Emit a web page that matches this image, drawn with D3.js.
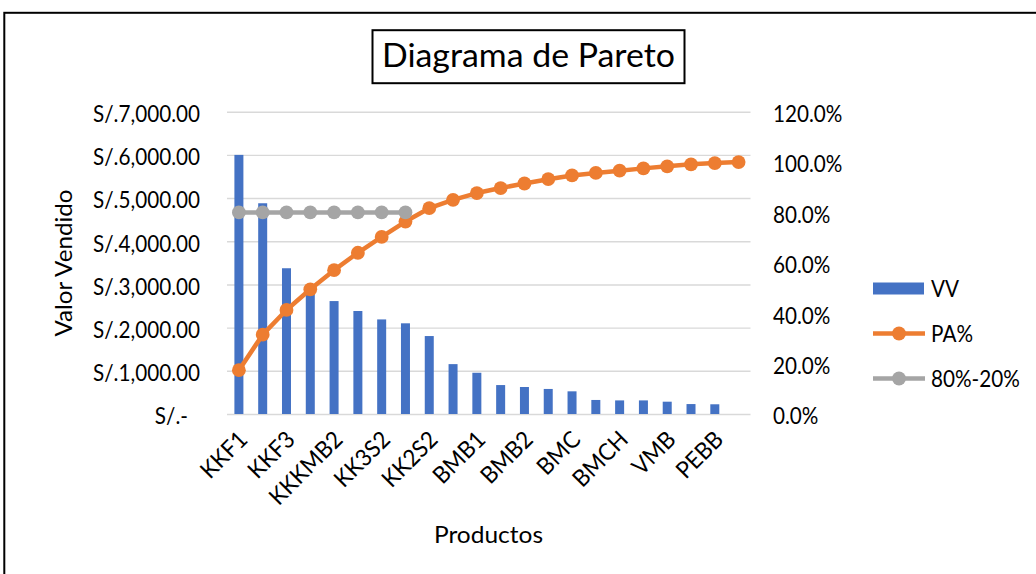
<!DOCTYPE html>
<html>
<head>
<meta charset="utf-8">
<script src="https://cdn.jsdelivr.net/npm/d3@7"></script>
<style>
  html, body { margin: 0; padding: 0; background: #fff; }
  svg { display: block; }
  text { font-family: Lato, "Noto Sans", sans-serif; fill: #000; }
</style>
</head>
<body>
<svg id="chart" width="1036" height="574"></svg>
<script>
// Products, ordered from highest to lowest sales
const categories = ["KKF1","KKF2","KKF3","KKKMB1","KKKMB2","KK3S1","KK3S2","KK2S1","KK2S2","KKMB3",
  "BMB1","BMB3","BMB2","BMA","BMC","BMS","BMCH","VMA","VMB","PEBA","PEBB","PEBC"];
// Labels shown on the category axis
const tickLabels = ["KKF1","KKF3","KKKMB2","KK3S2","KK2S2","BMB1","BMB2","BMC","BMCH","VMB","PEBB"];
// VV: value sold (S/.)
const vv = [6000, 4880, 3375, 2850, 2615, 2385, 2190, 2100, 1805, 1155, 955,
  670, 625, 580, 525, 325, 315, 315, 285, 230, 225, 0];
// PA%: cumulative share of sales
const pa = [0.174, 0.315, 0.413, 0.495, 0.571, 0.640, 0.703, 0.764, 0.817, 0.850, 0.877,
  0.897, 0.915, 0.932, 0.947, 0.957, 0.966, 0.975, 0.983, 0.991, 0.996, 1.000];
// 80%-20% reference line (first eight products)
const ref80 = [0.8, 0.8, 0.8, 0.8, 0.8, 0.8, 0.8, 0.8];
const leftTicks = [0, 1000, 2000, 3000, 4000, 5000, 6000, 7000];
const rightTicks = [0, 0.2, 0.4, 0.6, 0.8, 1.0, 1.2];

const BLUE = "#4472C4", ORANGE = "#ED7D31", GRAY = "#A5A5A5", GRID = "#D9D9D9";
const svg = d3.select("#chart");

// narrow the Lato glyphs towards Calibri-like widths
function condense(sel, k) {
  sel.each(function () {
    const w = this.getComputedTextLength();
    if (w > 0) d3.select(this).attr("textLength", w * k).attr("lengthAdjust", "spacingAndGlyphs");
  });
}

// chart frame
svg.append("rect").attr("x", 4.3).attr("y", 12.8).attr("width", 1100).attr("height", 700)
  .attr("fill", "#fff").attr("stroke", "#000").attr("stroke-width", 2);

const plot = { left: 227, right: 750.5, top: 111.7, bottom: 414 };

const x = d3.scaleBand().domain(categories).range([plot.left, plot.right]).padding(0);
const yL = d3.scaleLinear().domain([0, 7000]).range([plot.bottom, plot.top]);
const yR = d3.scaleLinear().domain([0, 1.2]).range([plot.bottom, plot.top]);
const cx = d => x(d) + x.bandwidth() / 2;

// gridlines
const grid = svg.append("g").attr("transform", `translate(${plot.left},0)`)
  .call(d3.axisLeft(yL).tickValues(leftTicks).tickSize(-(plot.right - plot.left)).tickFormat(""));
grid.select(".domain").remove();
grid.selectAll(".tick line").attr("stroke", GRID).attr("stroke-width", 1.4);

// left axis labels
const fmtMoney = d => d === 0 ? "S/.-" : "S/." + d3.format(",.2f")(d);
const gl = svg.append("g").attr("transform", `translate(${plot.left - 27},0)`)
  .call(d3.axisLeft(yL).tickValues(leftTicks).tickSize(0).tickPadding(0).tickFormat(fmtMoney));
gl.select(".domain").remove();
gl.selectAll(".tick text").attr("font-size", 23.5).attr("font-family", "Lato")
  .attr("dy", "0.42em").attr("y", 0)
  .attr("dx", d => d === 0 ? -12 : 0);
condense(gl.selectAll(".tick text"), 0.88);

// right axis labels
const gr = svg.append("g").attr("transform", `translate(${plot.right + 22.5},0)`)
  .call(d3.axisRight(yR).tickValues(rightTicks).tickSize(0).tickPadding(0).tickFormat(d3.format(".1%")));
gr.select(".domain").remove();
gr.selectAll(".tick text").attr("font-size", 23.5).attr("font-family", "Lato")
  .attr("dy", "0.42em").attr("y", 0);
condense(gr.selectAll(".tick text"), 0.88);

// category axis labels
const gx = svg.append("g").attr("transform", `translate(0,${plot.bottom})`)
  .call(d3.axisBottom(x).tickValues(categories.filter(d => tickLabels.includes(d)))
    .tickSize(0).tickPadding(0));
gx.select(".domain").remove();
gx.selectAll(".tick text").attr("font-size", 23.5).attr("font-family", "Lato")
  .attr("text-anchor", "end").attr("dy", 0).attr("y", 0)
  .attr("transform", "translate(10,27) rotate(-45)");
condense(gx.selectAll(".tick text"), 0.95);

// bars
const bw = 9;
svg.append("g").selectAll("rect").data(vv.map((v, i) => ({ c: categories[i], v })).filter(d => d.v > 0))
  .join("rect")
  .attr("x", d => cx(d.c) - bw / 2).attr("width", bw)
  .attr("y", d => yL(d.v)).attr("height", d => yL(0) - yL(d.v))
  .attr("fill", BLUE);

// line series with markers
function series(values, color) {
  const pts = values.map((v, i) => [cx(categories[i]), yR(v)]);
  const g = svg.append("g");
  g.append("path").attr("d", d3.line()(pts)).attr("fill", "none")
    .attr("stroke", color).attr("stroke-width", 4.5).attr("stroke-linejoin", "round");
  g.selectAll("circle").data(pts).join("circle")
    .attr("cx", d => d[0]).attr("cy", d => d[1]).attr("r", 6.9).attr("fill", color);
}
series(pa, ORANGE);
series(ref80, GRAY);

// title box
svg.append("rect").attr("x", 372.5).attr("y", 30.2).attr("width", 312).attr("height", 53)
  .attr("fill", "#fff").attr("stroke", "#000").attr("stroke-width", 2);
svg.append("text").attr("x", 528.5).attr("y", 66.7).attr("text-anchor", "middle")
  .attr("font-size", 32).attr("textLength", 293).attr("lengthAdjust", "spacingAndGlyphs")
  .text("Diagrama de Pareto");

// axis titles
svg.append("text").attr("transform", "translate(72,263) rotate(-90)").attr("text-anchor", "middle")
  .attr("font-size", 24).attr("textLength", 147).attr("lengthAdjust", "spacingAndGlyphs")
  .text("Valor Vendido");
svg.append("text").attr("x", 488.5).attr("y", 543).attr("text-anchor", "middle")
  .attr("font-size", 24).attr("textLength", 109).attr("lengthAdjust", "spacingAndGlyphs")
  .text("Productos");

// legend
const lg = svg.append("g");
lg.append("rect").attr("x", 873).attr("y", 282.5).attr("width", 51).attr("height", 12).attr("fill", BLUE);
lg.append("text").attr("x", 931).attr("y", 289).attr("dy", "0.36em").attr("font-size", 23.5).text("VV");
[[333.5, ORANGE, "PA%"], [378.5, GRAY, "80%-20%"]].forEach(([yy, c, t]) => {
  lg.append("line").attr("x1", 873).attr("x2", 925).attr("y1", yy).attr("y2", yy)
    .attr("stroke", c).attr("stroke-width", 4.5);
  lg.append("circle").attr("cx", 899).attr("cy", yy).attr("r", 6.9).attr("fill", c);
  lg.append("text").attr("x", 931).attr("y", yy).attr("dy", "0.36em").attr("font-size", 23.5).text(t);
});
condense(lg.selectAll("text"), 0.88);
</script>
</body>
</html>
